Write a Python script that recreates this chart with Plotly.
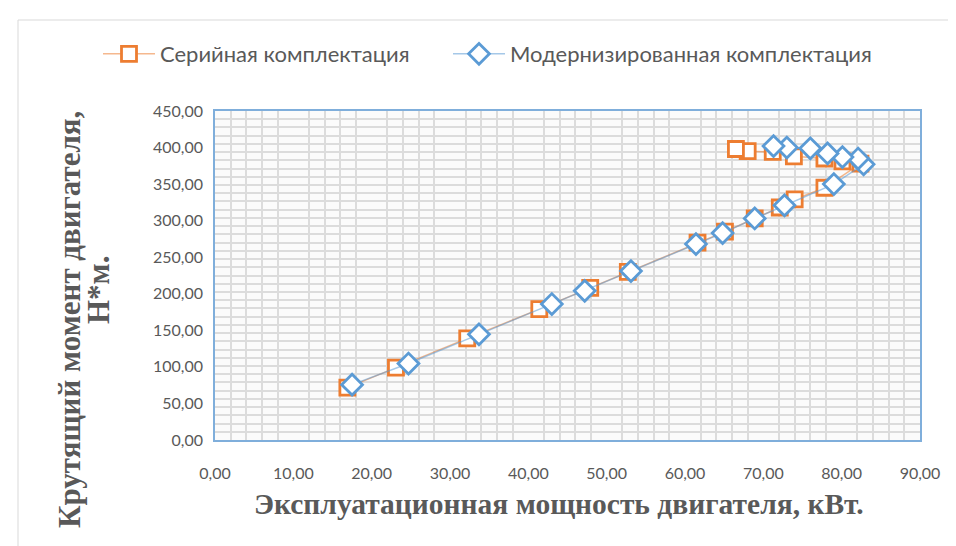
import plotly.graph_objects as go

# Серийная комплектация
serial_power = [16.9, 23.1, 32.2, 41.4, 47.9, 52.7, 61.6, 65.1, 68.9, 72.1, 74.0, 77.8,
                82.4, 80.1, 77.8, 73.9, 71.2, 68.0, 66.5]
serial_torque = [71.6, 99.1, 139.0, 179.0, 208.0, 230.0, 270.0, 285.0, 303.0, 318.0, 329.0, 345.0,
                 378.0, 381.0, 385.0, 388.0, 394.0, 395.0, 398.0]

# Модернизированная комплектация
modern_power = [17.5, 24.7, 33.7, 43.0, 47.2, 53.1, 61.4, 64.8, 68.9, 72.7, 79.0,
                82.8, 82.1, 80.1, 78.2, 76.0, 73.0, 71.3]
modern_torque = [75.7, 104.6, 144.5, 186.0, 204.0, 231.0, 268.0, 283.0, 303.0, 321.0, 350.0,
                 377.0, 385.0, 387.0, 392.0, 399.0, 400.0, 402.0]

series_names = ["Серийная комплектация", "Модернизированная комплектация"]
x_title = "Эксплуатационная мощность двигателя, кВт."
y_title_lines = ["Крутящий момент двигателя,", "Н*м."]

W, H = 956, 546
L, R, T, B = 207, 44, 103, 114
pw, ph = W - L - R, H - T - B

def px(xp):
    return (xp - L) / pw

def py(yp):
    return (H - B - yp) / ph

fig = go.Figure()
fig.add_trace(go.Scatter(
    x=serial_power, y=serial_torque, name=series_names[0], mode="lines+markers",
    line=dict(color="rgba(237,125,49,0.55)", width=1.5),
    marker=dict(symbol="square", size=15, color="white",
                line=dict(color="#ED7D31", width=2.8)),
    legend="legend",
))
fig.add_trace(go.Scatter(
    x=modern_power, y=modern_torque, name=series_names[1], mode="lines+markers",
    line=dict(color="rgba(91,155,213,0.55)", width=1.5),
    marker=dict(symbol="diamond", size=16, color="white",
                line=dict(color="#5B9BD5", width=2.8)),
    legend="legend2",
))

axis_font = dict(family="Lato, 'Open Sans', sans-serif", size=16, color="#595959")
fig.update_xaxes(
    range=[0, 90], dtick=10, tickformat=".2f", showgrid=False, zeroline=False,
    showline=True, mirror=True, linecolor="#7FAEDB", linewidth=1.5,
    ticks="", tickfont=axis_font, ticklabelstandoff=18,
    minor=dict(dtick=2, showgrid=True, gridcolor="#DCDCDC", gridwidth=2),
)
fig.update_yaxes(
    range=[0, 450], dtick=50, tickformat=".2f", showgrid=False, zeroline=False,
    showline=True, mirror=True, linecolor="#7FAEDB", linewidth=1.5,
    ticks="", tickfont=axis_font, ticklabelstandoff=7,
    minor=dict(dtick=11.25, showgrid=True, gridcolor="#DCDCDC", gridwidth=2),
)

serif = "'Liberation Serif', 'Times New Roman', serif"
fig.add_annotation(text="<b>" + x_title + "</b>", xref="paper", yref="paper",
                   x=px(551), y=py(496), showarrow=False,
                   font=dict(family=serif, size=29.5, color="#595959"),
                   xanchor="center", yanchor="middle")
fig.add_annotation(text="<b>" + y_title_lines[0] + "</b>", xref="paper", yref="paper",
                   x=px(61), y=py(312), showarrow=False,
                   font=dict(family=serif, size=31, color="#595959"), textangle=-90,
                   xanchor="center", yanchor="middle")
fig.add_annotation(text="<b>" + y_title_lines[1] + "</b>", xref="paper", yref="paper",
                   x=px(90), y=py(282), showarrow=False,
                   font=dict(family=serif, size=31, color="#595959"), textangle=-90,
                   xanchor="center", yanchor="middle")

fig.add_shape(type="rect", xref="paper", yref="paper",
              x0=px(10), x1=px(947), y0=py(540), y1=py(12),
              line=dict(color="#D9D9D9", width=1), layer="below")

leg_font = dict(family="Lato, 'Open Sans', sans-serif", size=22, color="#595959")
fig.update_layout(
    width=W, height=H, margin=dict(l=L, r=R, t=T, b=B),
    paper_bgcolor="white", plot_bgcolor="#FBFBFB",
    separators=", ",
    showlegend=True,
    legend=dict(orientation="h", x=px(90), y=py(46), xanchor="left", yanchor="middle",
                font=leg_font, bgcolor="rgba(0,0,0,0)", itemwidth=52),
    legend2=dict(orientation="h", x=px(440), y=py(46), xanchor="left", yanchor="middle",
                 font=leg_font, bgcolor="rgba(0,0,0,0)", itemwidth=52),
)

fig.write_html("out.html")
